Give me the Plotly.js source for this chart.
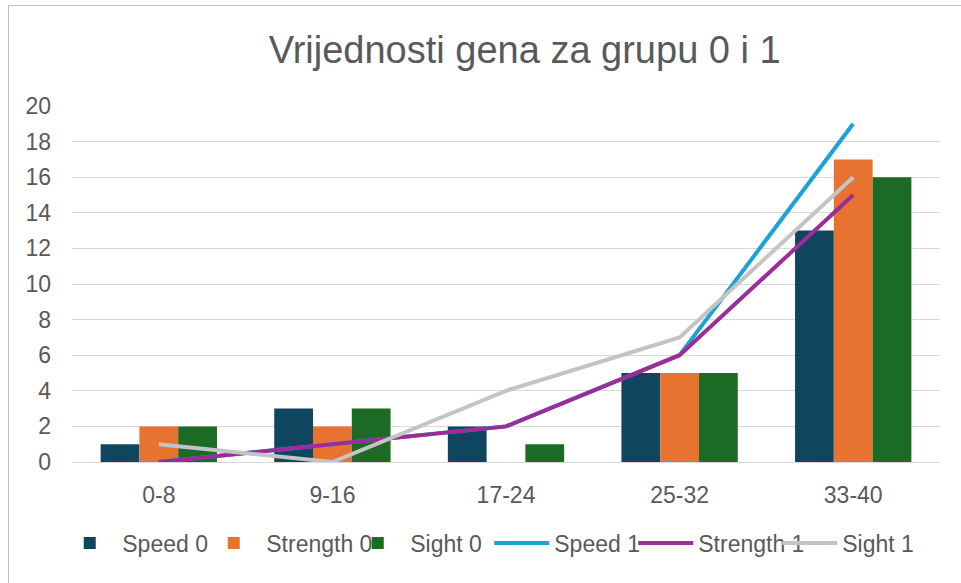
<!DOCTYPE html>
<html>
<head>
<meta charset="utf-8">
<script src="https://cdn.plot.ly/plotly-3.0.1.min.js"></script>
<style>
html,body{margin:0;padding:0;background:#fff;}
#frame{position:absolute;left:8px;top:5px;width:955px;height:590px;border:1px solid #bfbfbf;box-sizing:border-box;}
#chart{position:absolute;left:0;top:0;width:961px;height:583px;}
</style>
</head>
<body>
<div id="frame"></div>
<div id="chart"></div>
<script>
const categories = ['0-8','9-16','17-24','25-32','33-40'];
const speed0 = [1,3,2,5,13];
const strength0 = [2,2,0,5,17];
const sight0 = [2,3,1,5,16];
const speed1 = [0,1,2,6,19];
const strength1 = [0,1,2,6,15];
const sight1 = [1,0,4,7,16];

const font = 'Liberation Sans, Arial, sans-serif';
const traces = [
  {type:'bar', name:'Speed 0', x:categories, y:speed0, marker:{color:'#10455f'}},
  {type:'bar', name:'Strength 0', x:categories, y:strength0, marker:{color:'#e87230'}},
  {type:'bar', name:'Sight 0', x:categories, y:sight0, marker:{color:'#1b6b24'}},
  {type:'scatter', mode:'lines', name:'Speed 1', x:categories, y:speed1, line:{color:'#1aa3d9', width:4}},
  {type:'scatter', mode:'lines', name:'Strength 1', x:categories, y:strength1, line:{color:'#9b2d9b', width:4}},
  {type:'scatter', mode:'lines', name:'Sight 1', x:categories, y:sight1, line:{color:'#c4c4c4', width:4}}
];
const layout = {
  width:961, height:583,
  paper_bgcolor:'rgba(0,0,0,0)', plot_bgcolor:'rgba(0,0,0,0)',
  margin:{l:72, r:21, t:106, b:121},
  barmode:'group', bargap:0.33, bargroupgap:0,
  title:{text:'Vrijednosti gena za grupu 0 i 1', font:{family:font, size:38, color:'#595959'}, x:0.546, xanchor:'center', y:0.914, yanchor:'middle'},
  xaxis:{type:'category', showgrid:false, showline:true, linecolor:'#d9d9d9', linewidth:1, ticks:'', tickfont:{family:font, size:23, color:'#595959'}, ticklabelstandoff:12, fixedrange:true},
  yaxis:{range:[0,20], dtick:2, showgrid:true, gridcolor:'#d9d9d9', gridwidth:1, zeroline:false, showline:false, ticks:'', tickfont:{family:font, size:23, color:'#595959'}, ticklabelstandoff:20},
  legend:{orientation:'h', x:-0.017, xanchor:'left', y:-0.228, yanchor:'middle', font:{family:font, size:23, color:'#595959'}, itemwidth:55, entrywidth:74, entrywidthmode:'pixels', tracegroupgap:0, traceorder:'normal'},
  showlegend:true
};
Plotly.newPlot('chart', traces, layout, {displayModeBar:false, staticPlot:true});
</script>
</body>
</html>
